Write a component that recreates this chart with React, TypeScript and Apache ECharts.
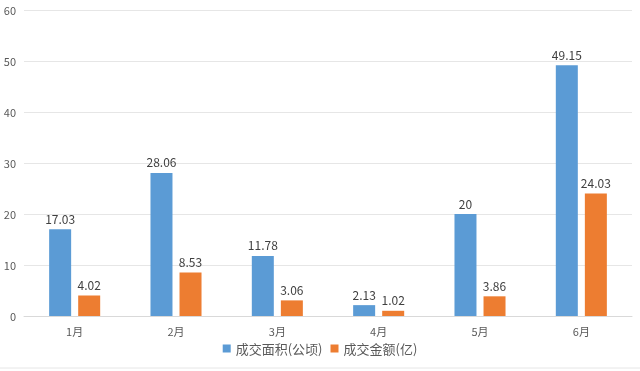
import React, { useEffect, useRef } from "react";
import * as echarts from "echarts";

const categories = ["1月", "2月", "3月", "4月", "5月", "6月"];
const areaValues = [17.03, 28.06, 11.78, 2.13, 20, 49.15];
const amountValues = [4.02, 8.53, 3.06, 1.02, 3.86, 24.03];
const seriesNames = ["成交面积(公顷)", "成交金额(亿)"];

export default function App() {
  const ref = useRef<HTMLDivElement>(null);
  useEffect(() => {
    const chart = echarts.init(ref.current!, null, { renderer: "svg" });
    const font = "'Microsoft YaHei', 'Noto Sans CJK SC', sans-serif";
    chart.setOption({
      animation: false,
      textStyle: { fontFamily: font },
      grid: { left: 24, right: 8, top: 10, bottom: 55 },
      legend: {
        bottom: 11,
        left: "center",
        itemWidth: 8,
        itemHeight: 8,
        itemGap: 8,
        icon: "rect",
        textStyle: { color: "#595959", fontSize: 13, fontFamily: font },
        data: seriesNames,
      },
      xAxis: {
        type: "category",
        data: categories,
        axisLine: { lineStyle: { color: "#d9d9d9" } },
        axisTick: { show: false },
        axisLabel: { color: "#595959", fontSize: 11, margin: 9 },
      },
      yAxis: {
        type: "value",
        min: 0,
        max: 60,
        interval: 10,
        axisLine: { show: false },
        axisTick: { show: false },
        axisLabel: { color: "#595959", fontSize: 11, margin: 8 },
        splitLine: { lineStyle: { color: "#e6e6e6" } },
      },
      series: [
        {
          name: seriesNames[0],
          type: "bar",
          data: areaValues,
          barWidth: 22,
          barGap: "32%",
          itemStyle: { color: "#5B9BD5" },
          label: { show: true, position: "top", color: "#404040", fontSize: 12, distance: 5 },
        },
        {
          name: seriesNames[1],
          type: "bar",
          data: amountValues,
          barWidth: 22,
          itemStyle: { color: "#ED7D31" },
          label: { show: true, position: "top", color: "#404040", fontSize: 12, distance: 5 },
        },
      ],
      graphic: [
        {
          type: "line",
          shape: { x1: 0, y1: 368, x2: 640, y2: 368 },
          style: { stroke: "#e6e6e6", lineWidth: 1 },
        },
      ],
    });
    return () => chart.dispose();
  }, []);
  return (
    <div
      ref={ref}
      style={{ position: "fixed", left: 0, top: 0, width: 640, height: 371 }}
    />
  );
}
